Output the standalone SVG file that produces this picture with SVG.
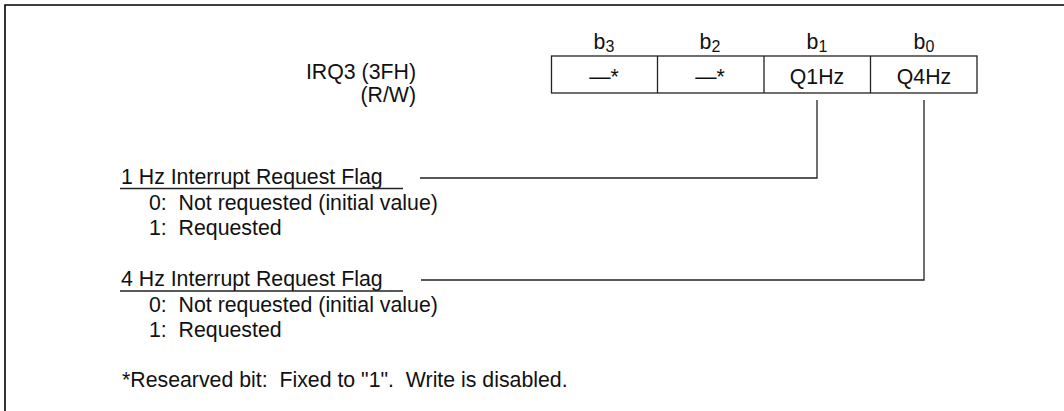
<svg xmlns="http://www.w3.org/2000/svg" width="1064" height="411" viewBox="0 0 1064 411">
<style>
text{font-family:"Liberation Sans",Arial,sans-serif;font-size:21.3px;fill:#111}
.c{text-anchor:middle}
.r{text-anchor:end}
.sub{font-size:16px}
.ln{stroke:#222;stroke-width:1.3;fill:none}
</style>
<rect width="1064" height="411" fill="#fff"/>
<path d="M5,411 V5 H1064" fill="none" stroke="#000" stroke-width="1.6"/>
<g id="register">
<text x="416" y="79" class="r">IRQ3 (3FH)</text>
<text x="416" y="102" class="r">(R/W)</text>
<text x="604" y="49" class="c">b<tspan class="sub" dy="3">3</tspan></text>
<text x="710" y="49" class="c">b<tspan class="sub" dy="3">2</tspan></text>
<text x="817" y="49" class="c">b<tspan class="sub" dy="3">1</tspan></text>
<text x="924" y="49" class="c">b<tspan class="sub" dy="3">0</tspan></text>
<rect x="551.5" y="56" width="425.5" height="37" class="ln"/>
<path d="M657.5,56 V93 M764,56 V93 M870.5,56 V93" class="ln"/>
<text x="604" y="84" class="c">—*</text>
<text x="710" y="84" class="c">—*</text>
<text x="817" y="84" class="c">Q1Hz</text>
<text x="924" y="84" class="c">Q4Hz</text>
</g>
<g id="flag1">
<text x="121" y="184">1 Hz Interrupt Request Flag</text>
<path d="M120,188.5 H403" class="ln"/>
<text x="149" y="210">0:&#160; Not requested (initial value)</text>
<text x="149" y="235">1:&#160; Requested</text>
</g>
<g id="flag2">
<text x="121" y="286">4 Hz Interrupt Request Flag</text>
<path d="M120,291 H403" class="ln"/>
<text x="149" y="312">0:&#160; Not requested (initial value)</text>
<text x="149" y="337">1:&#160; Requested</text>
</g>
<g id="connectors">
<path d="M420,178 H817 V100" class="ln"/>
<path d="M421,280 H924 V100" class="ln"/>
</g>
<g id="note">
<text x="122" y="387">*Researved bit:&#160; Fixed to "1".&#160; Write is disabled.</text>
</g>
</svg>
